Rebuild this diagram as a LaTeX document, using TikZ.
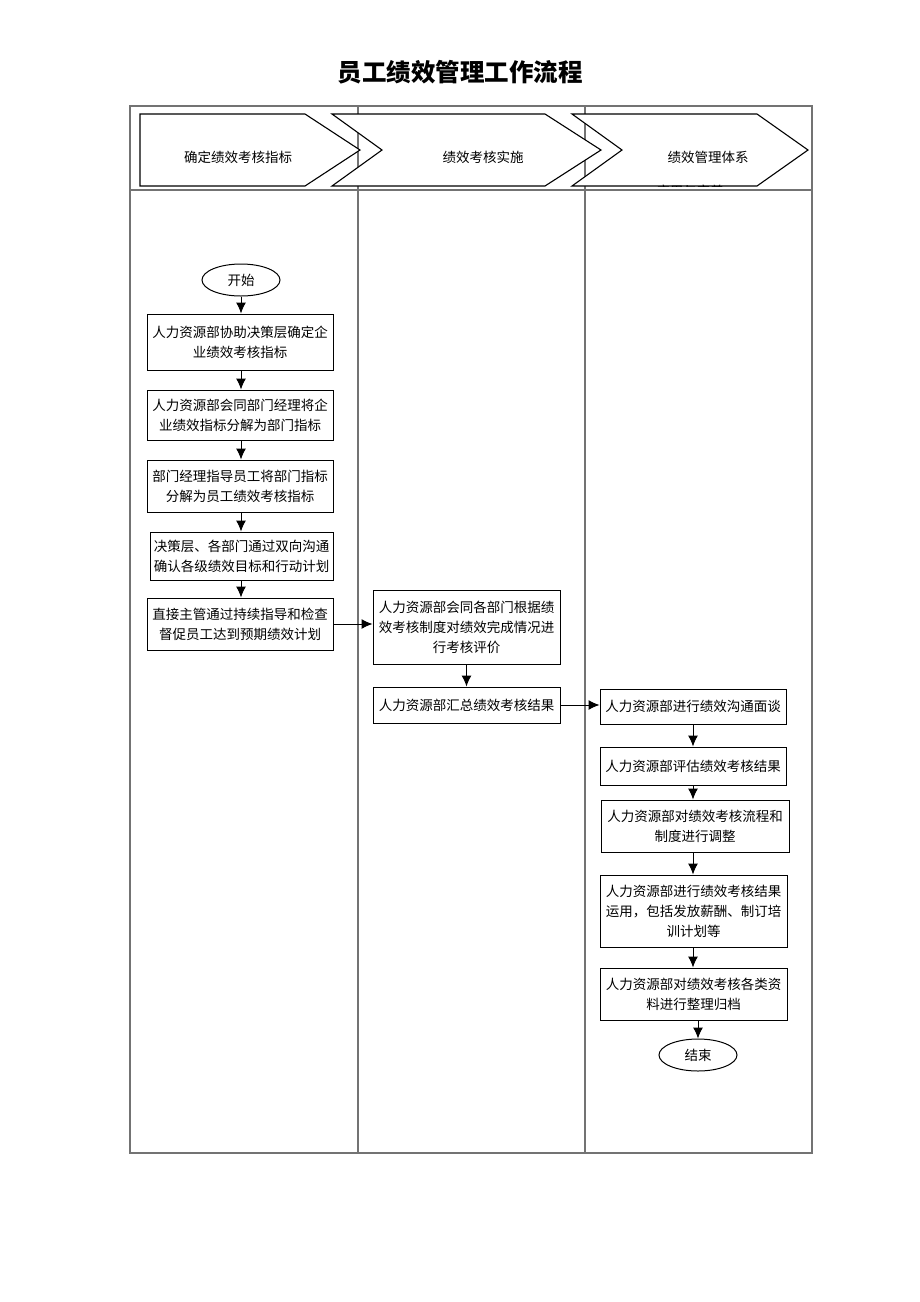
\documentclass[tikz,border=0pt]{standalone}
\usepackage{fontspec}
\setmainfont{Liberation Serif}
\newfontfamily\cjk{Noto Sans CJK SC}
\usetikzlibrary{arrows.meta,shapes.geometric}
\begin{document}
\begin{tikzpicture}[x=1pt,y=-1pt,
  box/.style={draw, line width=1pt, inner sep=0pt, align=center, font=\cjk\fontsize{13.5}{20}\selectfont},
  term/.style={draw, ellipse, line width=1pt, inner sep=0pt, minimum width=78pt, minimum height=32pt, font=\cjk\fontsize{13.5}{16}\selectfont},
  arr/.style={line width=1pt, -{Latex[length=11pt,width=10pt]}},
  grid/.style={draw=black!55, line width=1.2pt},
  chev/.style={draw, line width=1.1pt, fill=white},
  htext/.style={font=\cjk\fontsize{13.5}{16}\selectfont, inner sep=0pt}]
\useasboundingbox (0,0) rectangle (920,1302);
\fill[white] (0,0) rectangle (920,1302);
% title
\node[font=\cjk\bfseries\fontsize{24.5}{28}\selectfont] (title) at (460,72) {员工绩效管理工作流程};
% frame
\draw[grid] (130,106) rectangle (812,1153);
\draw[grid] (358,106) -- (358,1153);
\draw[grid] (585,106) -- (585,1153);
\draw[grid] (130,190) -- (812,190);
% header chevrons
\draw[chev] (140,114) -- (305,114) -- (360,150) -- (305,186) -- (140,186) -- cycle;
\draw[chev] (332,114) -- (545,114) -- (601,150) -- (545,186) -- (332,186) -- (382,150) -- cycle;
\draw[chev] (572,114) -- (757,114) -- (808,150) -- (757,186) -- (572,186) -- (622,150) -- cycle;
\node[htext] (h1) at (238,157) {确定绩效考核指标};
\node[htext] (h2) at (483,157) {绩效考核实施};
\node[htext] (h3) at (708,157) {绩效管理体系};
\begin{scope}
\clip (572,114) -- (757,114) -- (808,150) -- (757,186) -- (572,186) -- (622,150) -- cycle;
\node[htext] (h3b) at (690,191) {应用与完善};
\end{scope}
% column 1
\node[term] (start) at (241,280) {开始};
\node[box, minimum width=186pt, minimum height=56pt] (b1) at (240,342) {人力资源部协助决策层确定企\\业绩效考核指标};
\node[box, minimum width=186pt, minimum height=50pt] (b2) at (240,415) {人力资源部会同部门经理将企\\业绩效指标分解为部门指标};
\node[box, minimum width=186pt, minimum height=52pt] (b3) at (240,486) {部门经理指导员工将部门指标\\分解为员工绩效考核指标};
\node[box, minimum width=183pt, minimum height=48pt] (b4) at (241.5,556) {决策层、各部门通过双向沟通\\确认各级绩效目标和行动计划};
\node[box, minimum width=186pt, minimum height=52pt] (b5) at (240,624) {直接主管通过持续指导和检查\\督促员工达到预期绩效计划};
% column 2
\node[box, minimum width=187pt, minimum height=74pt] (bA) at (466.5,627) {人力资源部会同各部门根据绩\\效考核制度对绩效完成情况进\\行考核评价};
\node[box, minimum width=187pt, minimum height=36pt] (bB) at (466.5,705) {人力资源部汇总绩效考核结果};
% column 3
\node[box, minimum width=186pt, minimum height=35pt] (bC) at (693,706.5) {人力资源部进行绩效沟通面谈};
\node[box, minimum width=186pt, minimum height=38pt] (bD) at (693,766) {人力资源部评估绩效考核结果};
\node[box, minimum width=188pt, minimum height=52pt] (bE) at (695,826) {人力资源部对绩效考核流程和\\制度进行调整};
\node[box, minimum width=187pt, minimum height=72pt] (bF) at (693.5,911) {人力资源部进行绩效考核结果\\运用，包括发放薪酬、制订培\\训计划等};
\node[box, minimum width=187pt, minimum height=52pt] (bG) at (693.5,994) {人力资源部对绩效考核各类资\\料进行整理归档};
\node[term] (end) at (698,1055) {结束};
% arrows
\draw[arr] (start) -- (start |- b1.north);
\draw[arr] (b1.south -| start) -- (b2.north -| start);
\draw[arr] (b2.south -| start) -- (b3.north -| start);
\draw[arr] (b3.south -| start) -- (b4.north -| start);
\draw[arr] (b4.south -| start) -- (b5.north -| start);
\draw[arr] (b5.east) -- (b5.east -| bA.west);
\draw[arr] (bA) -- (bB);
\draw[arr] (bB.east) -- (bB.east -| bC.west);
\draw[arr] (bC) -- (bD);
\draw[arr] (bD.south) -- (bD.south |- bE.north);
\draw[arr] (bE.south -| bD) -- (bF.north -| bD);
\draw[arr] (bF.south -| bD) -- (bG.north -| bD);
\draw[arr] (end.north |- bG.south) -- (end.north);
\end{tikzpicture}
\end{document}
